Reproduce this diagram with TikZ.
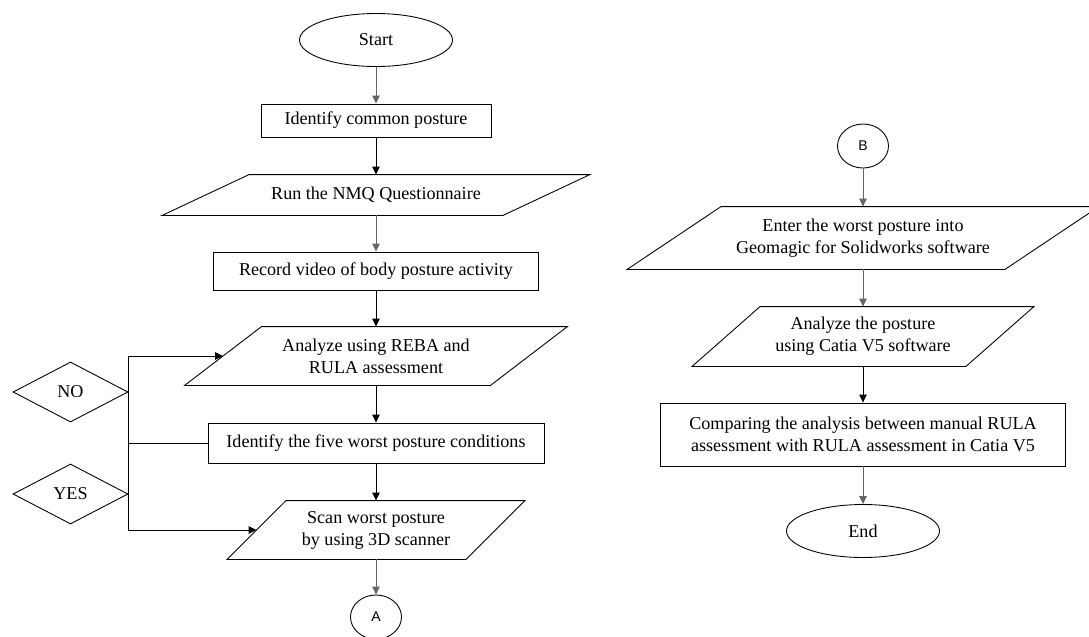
\documentclass[tikz,border=0pt]{standalone}
\usepackage{fontspec}
\setmainfont{Liberation Serif}
\newfontfamily\connfont{Liberation Sans}
\usetikzlibrary{shapes.geometric,arrows.meta}

% slanted outline round an (undrawn) input/output node
\newcommand{\ioframe}[2]{\draw ([xshift=#2]#1.north west) -- ([xshift=#2]#1.north east)
  -- ([xshift=-#2]#1.south east) -- ([xshift=-#2]#1.south west) -- cycle;}

\begin{document}
\begin{tikzpicture}[line width=0.5pt,
  every node/.style={font=\fontsize{10.3}{12.5}\selectfont, align=center, inner sep=1pt},
  terminal/.style={draw, ellipse, minimum width=3.06cm, minimum height=1.06cm},
  procbox/.style={draw, rectangle},
  iobox/.style={rectangle},
  choice/.style={draw, diamond, minimum width=2.3cm, minimum height=1.2cm, inner sep=0pt},
  conn/.style={draw, ellipse, minimum width=1.02cm, minimum height=0.88cm,
    font=\connfont\fontsize{8}{10}\selectfont},
  flow/.style={-{Triangle[length=1.6mm,width=1.5mm]}},
  faint/.style={draw=black!60}]

\useasboundingbox (0,0) rectangle (21.78,-12.72);

% left column
\node[terminal] (start) at (7.52,-0.80) {Start};
\node[procbox, minimum width=4.6cm, minimum height=0.66cm] (common) at (7.52,-2.41) {Identify common posture};
\node[iobox, minimum width=6.8cm, minimum height=0.8cm] (nmq) at (7.52,-3.90) {Run the NMQ Questionnaire};
\node[procbox, minimum width=6.5cm, minimum height=0.76cm] (record) at (7.52,-5.42) {Record video of body posture activity};
\node[iobox, minimum width=6.1cm, minimum height=1.16cm] (reba) at (7.52,-7.12) {Analyze using REBA and\\RULA assessment};
\node[procbox, minimum width=6.72cm, minimum height=0.8cm] (five) at (7.52,-8.86) {Identify the five worst posture conditions};
\node[iobox, minimum width=4.76cm, minimum height=1.16cm] (scan) at (7.52,-10.60) {Scan worst posture\\by using 3D scanner};
\node[conn] (conA) at (7.52,-12.34) {A};

\node[choice] (no) at (1.41,-7.84) {NO};
\node[choice] (yes) at (1.41,-9.88) {YES};

% right column
\node[conn] (conB) at (17.26,-2.92) {B};
\node[iobox, minimum width=7.54cm, minimum height=1.24cm] (enter) at (17.26,-4.76) {Enter the worst posture into\\Geomagic for Solidworks software};
\node[iobox, minimum width=5.46cm, minimum height=1.18cm] (catia) at (17.26,-6.73) {Analyze the posture\\using Catia V5 software};
\node[procbox, minimum width=8.1cm, minimum height=1.26cm] (compare) at (17.26,-8.69) {Comparing the analysis between manual RULA\\assessment with RULA assessment in Catia V5};
\node[terminal] (stop) at (17.26,-10.62) {End};

% slanted frames
\ioframe{nmq}{0.87cm}
\ioframe{reba}{0.77cm}
\ioframe{scan}{0.59cm}
\ioframe{enter}{0.94cm}
\ioframe{catia}{0.68cm}

% connectors
\draw[flow, faint] (start) -- (common);
\draw[flow] (common) -- (nmq);
\draw[flow, faint] (nmq) -- (record);
\draw[flow] (record) -- (reba);
\draw[flow] (reba) -- (five);
\draw[flow] (five) -- (scan);
\draw[flow, faint] (scan) -- (conA);

\draw (no.east |- reba.west) -- (no.east |- scan.west);
\draw[flow] (no.east |- reba.west) -- (reba.west);
\draw (no.east |- five.west) -- (five.west);
\draw[flow] (no.east |- scan.west) -- (scan.west);

\draw[flow, faint] (conB) -- (enter);
\draw[flow, faint] (enter) -- (catia);
\draw[flow] (catia) -- (compare);
\draw[flow, faint] (compare) -- (stop);
\end{tikzpicture}
\end{document}
